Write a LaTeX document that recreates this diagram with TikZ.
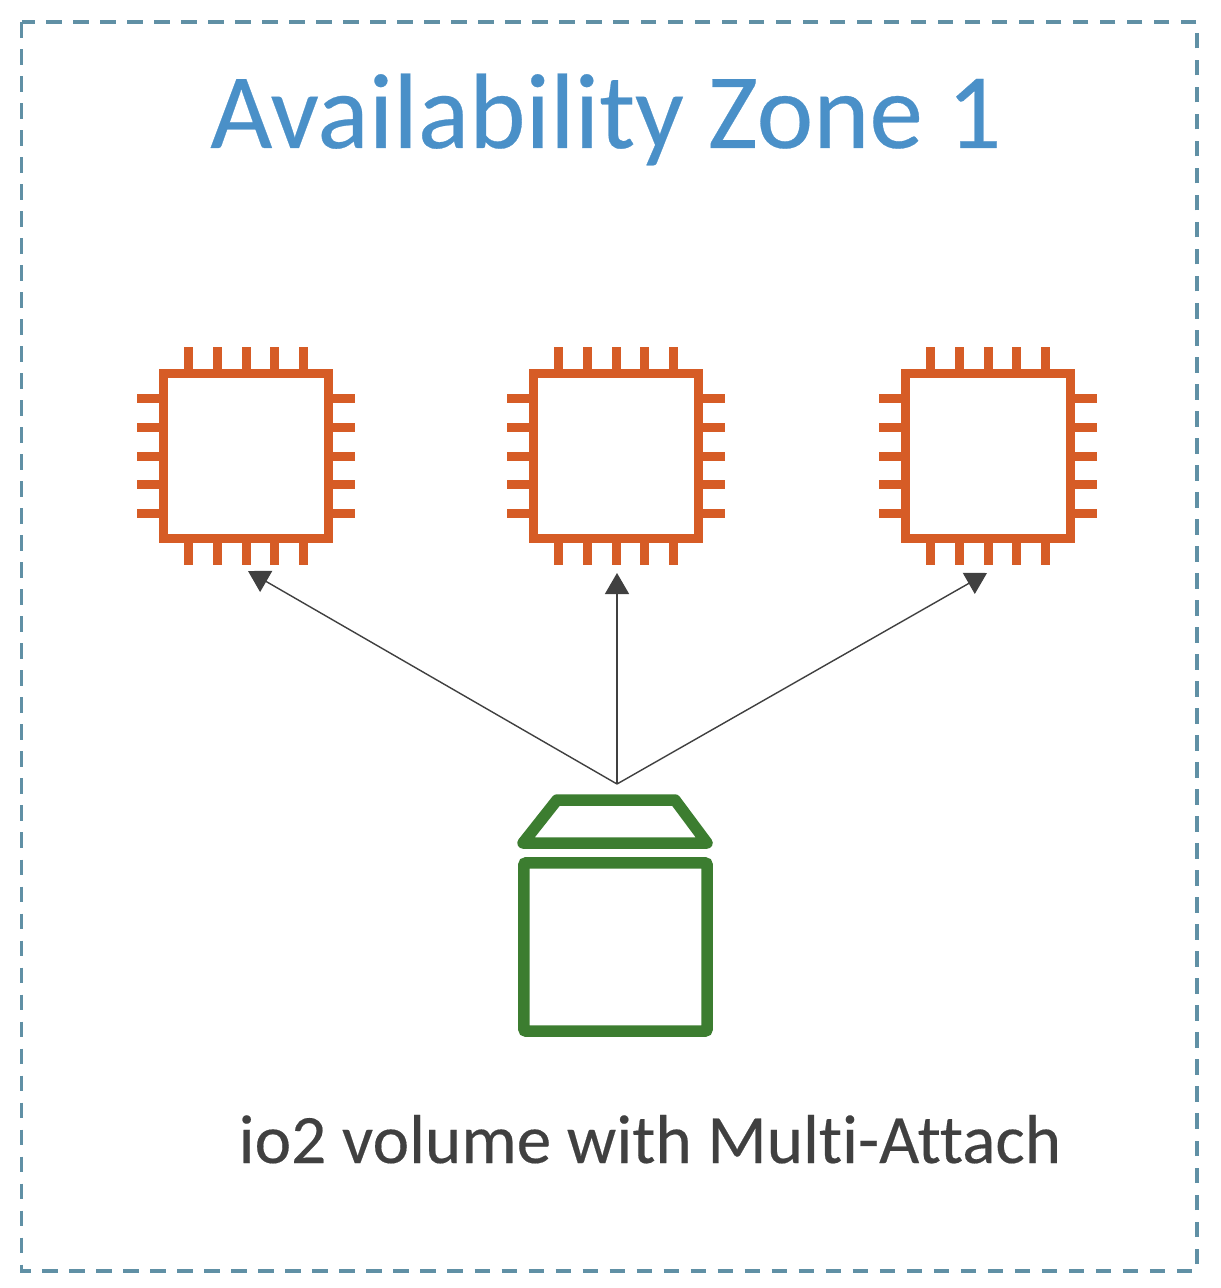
\documentclass[tikz,border=0pt]{standalone}
\usepackage{fontspec}
\setmainfont[Ligatures=NoCommon]{Carlito}
\usetikzlibrary{calc}
\usetikzlibrary{arrows.meta}
\usetikzlibrary{positioning}
\definecolor{zoneblue}{RGB}{74, 144, 200}
\definecolor{zoneline}{RGB}{96, 144, 165}
\definecolor{chiporange}{RGB}{214, 92, 38}
\definecolor{volgreen}{RGB}{60, 125, 48}
\definecolor{inkgray}{RGB}{64, 64, 64}
\tikzset{
    chipbox/.style={draw=chiporange, line width=0.095cm, fill=white, minimum size=1.65cm, inner sep=0pt},
    chippin/.style={chiporange, line width=0.09cm},
    volline/.style={volgreen, line width=0.115cm, line join=round},
    feed/.style={inkgray, line width=0.014cm, -{Triangle[length=0.21cm, width=0.24cm]}},
    heavy/.style={font=\addfontfeatures{FakeBold=0.25}\fontsize{#1}{#1}\selectfont}
}
\begin{document}
\begin{tikzpicture}[x=0.01cm, y=-0.01cm]
            \useasboundingbox (0,0) rectangle (1220,1288);
            \fill[white] (0,0) rectangle (1220,1288);
            \draw[zoneline, line width=0.034cm, dash pattern=on 0.155cm off 0.115cm] (21.5,22) rectangle (1197,1271);
            \node[zoneblue, heavy=30.5, anchor=base] (zonetitle) at (606,148) {Availability Zone 1};
            % the three instances
            \node[chipbox] (chipa) at (246,456) {};
            \node[chipbox] (chipb) at (616,456) {};
            \node[chipbox] (chipc) at (988,456) {};
            \foreach \chip in {chipa,chipb,chipc} {
                \foreach \k in {-2,...,2} {
                    \draw[chippin] ($(\chip.north)+(\k*28.6,0)$) -- ++(0,-22);
                    \draw[chippin] ($(\chip.south)+(\k*28.6,0)$) -- ++(0,22);
                    \draw[chippin] ($(\chip.west)+(0,\k*28.6)$) -- ++(-22,0);
                    \draw[chippin] ($(\chip.east)+(0,\k*28.6)$) -- ++(22,0);
                }
            }
            % volume
            \node[draw=volgreen, line width=0.115cm, rounded corners=0.02cm, minimum width=1.83cm, minimum height=1.68cm, inner sep=0pt] (volbody) at (615.5,947) {};
            \draw[volline] (557,800) -- (675,800) -- (707,843) -- (523,843) -- cycle;
            \node[inkgray, heavy=19.7, anchor=base] (vollabel) at (650,1163) {io2 volume with Multi-Attach};
            % arrows
            \coordinate (fan) at (617,784);
            \coordinate (tipa) at (248,571);
            \coordinate (tipb) at (617,573);
            \coordinate (tipc) at (987,573);
            \draw[feed] (fan) -- (tipa);
            \draw[feed] (fan) -- (tipb);
            \draw[feed] (fan) -- (tipc);
\end{tikzpicture}
\end{document}
